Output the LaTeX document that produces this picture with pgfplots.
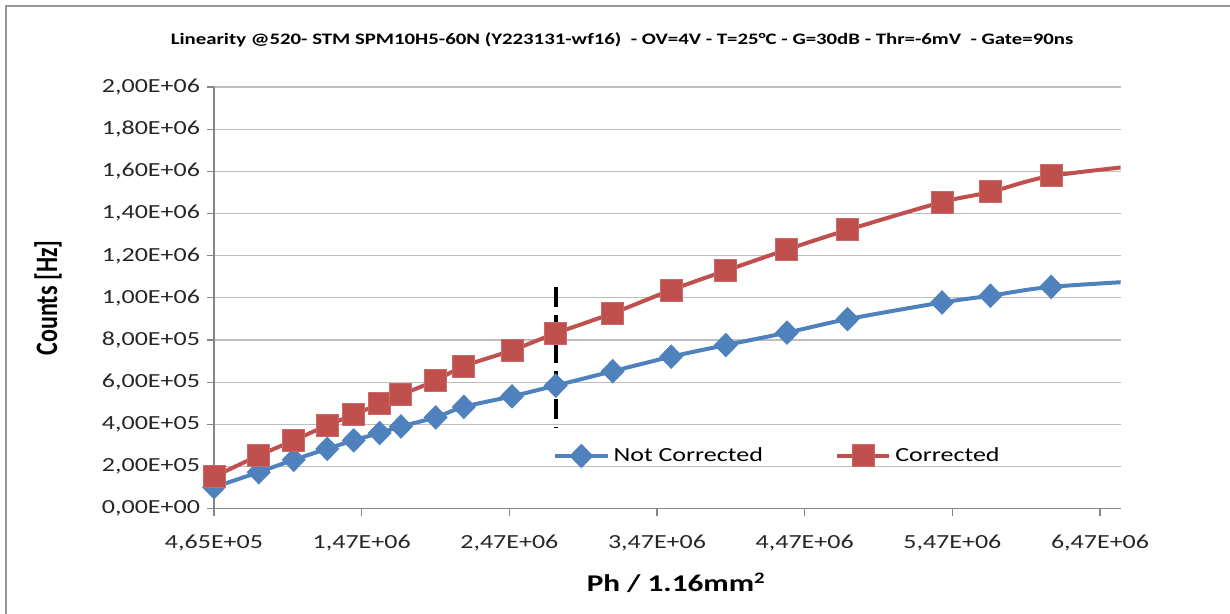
\documentclass[border=0pt]{standalone}
\usepackage{pgfplots}
\pgfplotsset{compat=1.18}
\usepackage{fontspec}
\setmainfont{Carlito}
\usepackage{graphicx}
\newcommand{\sx}[1]{\scalebox{1.3}[1]{#1}}
\newcommand{\sy}[1]{\scalebox{1}[1.3]{#1}}
\definecolor{xlblue}{RGB}{79,129,189}
\definecolor{xlred}{RGB}{192,80,77}
\definecolor{gridc}{RGB}{190,190,190}
\definecolor{axc}{RGB}{134,134,134}
\definecolor{framec}{RGB}{150,150,150}
\pgfplotstableread{
x y
4.65e5 1.02e5
7.68e5 1.73e5
1.005e6 2.32e5
1.232e6 2.84e5
1.411e6 3.24e5
1.587e6 3.59e5
1.731e6 3.90e5
1.966e6 4.33e5
2.157e6 4.83e5
2.483e6 5.33e5
2.779e6 5.84e5
3.165e6 6.52e5
3.561e6 7.21e5
3.931e6 7.76e5
4.345e6 8.35e5
4.755e6 8.99e5
5.395e6 9.78e5
5.723e6 1.010e6
6.134e6 1.052e6
6.900e6 1.086e6
}\notcorr
\pgfplotstableread{
x y
4.65e5 1.52e5
7.68e5 2.52e5
1.005e6 3.24e5
1.232e6 3.95e5
1.411e6 4.46e5
1.587e6 4.97e5
1.731e6 5.40e5
1.966e6 6.08e5
2.157e6 6.76e5
2.483e6 7.51e5
2.779e6 8.32e5
3.165e6 9.27e5
3.561e6 1.037e6
3.931e6 1.129e6
4.345e6 1.229e6
4.755e6 1.322e6
5.395e6 1.454e6
5.723e6 1.502e6
6.134e6 1.578e6
6.900e6 1.640e6
}\corr
\begin{document}
\begin{tikzpicture}
\useasboundingbox (0,0) rectangle (615pt,307pt);
\draw[framec, line width=1pt] (3pt,-20pt) -- (3pt,304pt) -- (640pt,304pt);
\node[font=\bfseries\fontsize{8}{9}\selectfont] at (311pt,287pt) {\sx{Linearity @520- STM SPM10H5-60N (Y223131-wf16)\ \ - OV=4V - T=25°C - G=30dB - Thr=-6mV\ \ - Gate=90ns}};
\begin{axis}[
  at={(107pt,52.65pt)}, anchor=south west,
  scale only axis, width=453.35pt, height=210.85pt,
  xmin=4.65e5, xmax=6.605e6, ymin=0, ymax=2e6,
  scaled ticks=false,
  axis x line=bottom, axis y line=left,
  axis line style={-, draw=axc, line width=0.6pt},
  xtick={4.65e5,1.465e6,2.465e6,3.465e6,4.465e6,5.465e6,6.465e6},
  xticklabels={{\sx{4,65E+05}},{\sx{1,47E+06}},{\sx{2,47E+06}},{\sx{3,47E+06}},{\sx{4,47E+06}},{\sx{5,47E+06}},{\sx{6,47E+06}}},
  ytick={0,2e5,4e5,6e5,8e5,1e6,1.2e6,1.4e6,1.6e6,1.8e6,2e6},
  yticklabels={{\sx{0,00E+00}},{\sx{2,00E+05}},{\sx{4,00E+05}},{\sx{6,00E+05}},{\sx{8,00E+05}},{\sx{1,00E+06}},{\sx{1,20E+06}},{\sx{1,40E+06}},{\sx{1,60E+06}},{\sx{1,80E+06}},{\sx{2,00E+06}}},
  ticklabel style={font=\fontsize{10}{12}\selectfont, text=black!85},
  xticklabel style={yshift=-6pt},
  tick align=outside, major tick length=3.5pt,
  tick style={draw=axc, line width=0.6pt},
  ymajorgrids, grid style={draw=gridc, line width=0.6pt},
  xlabel={\sx{Ph / 1.16mm\textsuperscript{2}}},
  ylabel={\sy{Counts [Hz]}},
  label style={font=\bfseries\fontsize{12}{14}\selectfont},
  xlabel style={at={(axis description cs:0.51,-0.176)}, anchor=center},
  ylabel style={at={(axis description cs:-0.183,0.5)}, anchor=center},
  clip=true,
  legend columns=2,
  legend style={draw=none, fill=none, at={(0.367,0.125)}, anchor=west,
    font=\fontsize{10}{12}\selectfont,
    nodes={inner xsep=2pt},
    /tikz/every even column/.append style={column sep=34pt}},
  legend cell align=left,
]
\addplot[xlblue, line width=2pt, smooth, tension=0.5, mark=diamond*, mark size=5.8pt,
  mark indices={1,2,3,4,5,6,7,8,9,10,11,12,13,14,15,16,17,18,19},
  mark options={fill=xlblue, draw=xlblue, line width=0.5pt, xscale=1.3},
  legend image code/.code={\draw[mark indices={2}] plot coordinates {(0cm,0cm) (0.46cm,0cm) (0.92cm,0cm)};}]
  table[x=x,y=y] {\notcorr};
\addlegendentry{\sx{Not Corrected}}
\addplot[xlred, line width=2pt, smooth, tension=0.5, mark=square*, mark size=5.5pt,
  mark indices={1,2,3,4,5,6,7,8,9,10,11,12,13,14,15,16,17,18,19},
  mark options={fill=xlred, draw=xlred!85!white, line width=0.5pt},
  legend image code/.code={\draw[mark indices={2}] plot coordinates {(0cm,0cm) (0.46cm,0cm) (0.92cm,0cm)};}]
  table[x=x,y=y] {\corr};
\addlegendentry{\sx{Corrected}}
\addplot[black, line width=2pt, dash pattern=on 10pt off 4pt, forget plot]
  coordinates {(2.779e6,1.051e6) (2.779e6,3.84e5)};
\end{axis}
\end{tikzpicture}
\end{document}
